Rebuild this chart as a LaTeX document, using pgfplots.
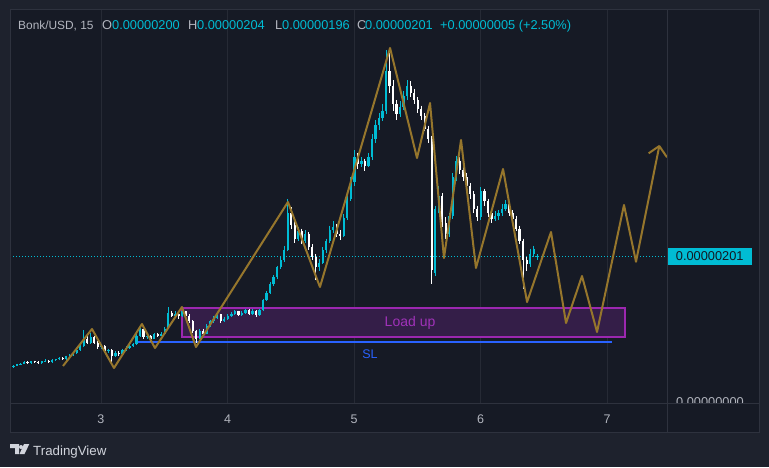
\documentclass[border=0pt]{standalone}
\usepackage{pgfplots}
\pgfplotsset{compat=1.18}
\usepackage{pgfplotstable}
\usepackage{fontspec}
\setmainfont{Liberation Sans}

\definecolor{outerbg}{RGB}{30,34,45}
\definecolor{plotbg}{RGB}{22,26,37}
\definecolor{bordc}{RGB}{46,50,62}
\definecolor{gridc}{RGB}{38,42,53}
\definecolor{tvgrey}{RGB}{178,181,190}
\definecolor{tvcyan}{RGB}{0,188,212}
\definecolor{goldl}{RGB}{150,118,44}
\definecolor{boxfill}{RGB}{52,30,72}
\definecolor{boxdraw}{RGB}{156,39,176}
\definecolor{loadtxt}{RGB}{160,50,185}
\definecolor{slblue}{RGB}{41,98,255}
\definecolor{logoc}{RGB}{209,212,220}
\definecolor{darktxt}{RGB}{19,23,34}

% 40-minute candles, i = candle number, prices in units of 1e-8 USD
\pgfplotstableread{
i o h l c
0 44 47 43 46
1 46 49 45 48
2 48 51 47 50
3 50 52 49 51
4 51 54 50 53
5 53 54 51 52
6 52 55 51 54
7 54 55 52 53
8 53 54 51 52
9 52 55 51 54
10 54 57 53 55
11 55 56 52 53
12 53 57 52 56
13 56 58 55 57
14 57 60 56 59
15 59 60 56 57
16 57 62 56 61
17 61 64 60 63
18 63 67 62 66
19 66 71 65 70
20 70 77 69 75
21 75 98 74 86
22 86 90 78 80
23 80 94 79 88
24 88 89 78 80
25 80 82 72 74
26 74 78 72 76
27 76 77 66 68
28 68 72 66 70
29 70 71 52 62
30 62 68 60 66
31 66 68 62 64
32 64 72 63 70
33 70 75 68 73
34 73 77 72 75
35 75 80 74 78
36 78 92 77 90
37 90 105 88 99
38 99 100 86 88
39 88 92 86 90
40 90 91 81 86
41 86 94 85 92
42 92 94 88 90
43 90 95 89 93
44 93 102 92 100
45 100 130 99 122
46 122 125 116 118
47 118 124 116 121
48 121 122 114 117
49 117 127 116 124
50 124 125 116 118
51 118 120 108 110
52 110 112 94 96
53 96 98 80 86
54 86 99 85 97
55 97 100 91 93
56 93 106 92 104
57 104 112 102 110
58 110 117 108 115
59 115 122 113 120
60 120 121 108 111
61 111 116 109 114
62 114 120 112 118
63 118 123 116 121
64 121 126 119 124
65 124 125 117 119
66 119 124 117 122
67 122 128 120 126
68 126 127 119 121
69 121 127 119 125
70 125 126 116 119
71 119 128 118 126
72 126 142 124 140
73 140 153 138 150
74 150 165 148 163
75 163 175 160 172
76 172 188 170 186
77 186 200 183 196
78 196 215 193 210
79 210 281 208 262
80 262 270 240 245
81 245 250 220 225
82 225 242 222 236
83 236 240 218 222
84 222 238 220 232
85 232 235 210 214
86 214 218 196 200
87 200 204 168 186
88 186 198 180 192
89 192 214 190 210
90 210 226 206 222
91 222 244 220 238
92 238 250 234 242
93 242 246 228 232
94 232 238 224 230
95 230 260 228 255
96 255 288 252 282
97 282 312 278 305
98 305 350 300 340
99 340 346 324 330
100 330 340 326 334
101 334 338 320 328
102 328 346 326 340
103 340 372 336 365
104 365 392 360 385
105 385 402 378 395
106 395 415 390 405
107 405 490 400 460
108 460 486 430 440
109 440 448 405 415
110 415 420 392 400
111 400 418 396 410
112 410 432 406 425
113 425 448 420 440
114 440 446 424 430
115 430 436 414 420
116 420 424 402 408
117 408 412 392 398
118 398 402 376 380
119 380 384 360 366
120 366 370 162 182
121 178 272 174 268
122 268 300 262 285
123 285 290 242 248
124 248 256 226 232
125 232 262 228 258
126 258 318 254 312
127 312 342 306 335
128 335 340 316 322
129 322 328 306 312
130 312 318 294 300
131 300 304 282 288
132 288 292 262 268
133 268 272 250 256
134 256 298 252 292
135 292 296 272 278
136 278 282 256 262
137 262 266 248 254
138 254 264 250 258
139 258 266 252 262
140 262 274 258 268
141 268 280 264 274
142 274 276 258 262
143 262 266 248 254
144 254 258 236 240
145 240 244 218 222
146 222 226 156 196
147 196 200 180 190
148 190 212 186 205
149 205 216 200 212
150 200 204 196 201
}\candles

\begin{document}
\begin{tikzpicture}
\useasboundingbox (0,0) rectangle (769pt,467pt);
\fill[outerbg] (0,0) rectangle (769pt,467pt);
\fill[plotbg] (10pt,35pt) rectangle (759pt,457pt);

\begin{axis}[
  at={(10pt,64pt)}, anchor=south west,
  scale only axis, width=657pt, height=393pt,
  xmin=2.281, xmax=7.474, ymin=-4.2, ymax=546,
  axis line style={draw=none},
  xtick={3,4,5,6,7}, xticklabels={3,4,5,6,7},
  ytick=\empty,
  major tick length=0pt,
  xmajorgrids, grid style={draw=gridc, line width=0.9pt},
  xticklabel style={anchor=base, yshift=-20pt, text=tvgrey, font=\fontsize{12.5}{14}\selectfont},
  clip mode=individual,
]
% Load up zone
\addplot[fill=boxfill, draw=boxdraw, line width=1.2pt, forget plot]
  coordinates {(3.640,88.2) (7.142,88.2) (7.142,128.8) (3.640,128.8)} -- cycle;
% stop loss line
\addplot[slblue, line width=1.2pt, forget plot] coordinates {(3.269,81.2) (7.040,81.2)};
% last price line
\addplot[tvcyan, line width=0.8pt, dash pattern=on 0.8pt off 2.2pt, forget plot]
  coordinates {(2.281,201) (7.474,201)};

% wicks, up candles
\addplot[draw=none, mark=none, forget plot,
  restrict expr to domain={\thisrow{c}-\thisrow{o}}{0:10000},
  error bars/.cd, y dir=minus, y explicit, error mark=none,
  error bar style={draw=tvcyan, line width=0.9pt}]
  table[x expr={2.281+\thisrow{i}/36}, y=h, y error minus expr={\thisrow{h}-\thisrow{l}}] {\candles};
% bodies, up candles
\addplot[draw=none, mark=none, forget plot,
  restrict expr to domain={\thisrow{c}-\thisrow{o}}{0:10000},
  error bars/.cd, y dir=minus, y explicit, error mark=none,
  error bar style={draw=tvcyan, line width=2.2pt}]
  table[x expr={2.281+\thisrow{i}/36}, y=c, y error minus expr={\thisrow{c}-\thisrow{o}}] {\candles};
% wicks, down candles
\addplot[draw=none, mark=none, forget plot,
  restrict expr to domain={\thisrow{c}-\thisrow{o}}{-10000:-0.001},
  error bars/.cd, y dir=minus, y explicit, error mark=none,
  error bar style={draw=white, line width=0.9pt}]
  table[x expr={2.281+\thisrow{i}/36}, y=h, y error minus expr={\thisrow{h}-\thisrow{l}}] {\candles};
% bodies, down candles
\addplot[draw=none, mark=none, forget plot,
  restrict expr to domain={\thisrow{c}-\thisrow{o}}{-10000:-0.001},
  error bars/.cd, y dir=minus, y explicit, error mark=none,
  error bar style={draw=white, line width=2.2pt}]
  table[x expr={2.281+\thisrow{i}/36}, y=o, y error minus expr={\thisrow{o}-\thisrow{c}}] {\candles};

% projected zigzag
\addplot[goldl, line width=2pt, line join=round, forget plot] coordinates {
 (2.700,47.6) (2.929,99.4) (3.103,44.8) (3.324,106.4) (3.427,72.8) (3.640,130.2)
 (3.751,74.2) (4.478,277.2) (4.731,158.2) (5.285,492.8) (5.498,338.8) (5.601,415.8)
 (5.711,198.8) (5.846,364) (5.964,184.8) (6.178,323.4) (6.368,137.2) (6.557,235.2)
 (6.676,107.8) (6.802,173.6) (6.921,95.2) (7.134,273) (7.229,193.6) (7.413,355.6)};
\addplot[goldl, line width=2pt, line join=round, forget plot] coordinates {
 (7.329,345.4) (7.413,355.6) (7.474,339.8)};

\node[text=loadtxt, font=\fontsize{14}{16}\selectfont] at (axis cs:5.443,107.8) {Load up};
\node[text=slblue, font=\fontsize{12.5}{14}\selectfont] at (axis cs:5.126,64.4) {SL};
\node[fill=tvcyan, anchor=west, minimum width=85pt, minimum height=17pt, inner sep=0pt,
  text=darktxt, font=\fontsize{12.8}{14}\selectfont] at (axis cs:7.474,201) {0.00000201};
\end{axis}

% panel borders
\draw[bordc, line width=1pt] (10pt,35pt) rectangle (759pt,457pt);
\draw[bordc, line width=1pt] (10pt,64pt) -- (759pt,64pt);
\draw[bordc, line width=1pt] (667pt,35pt) -- (667pt,457pt);

% bottom price scale label (cut off)
\begin{scope}
\clip (668pt,64.5pt) rectangle (758pt,90pt);
\node[anchor=base, inner sep=0pt, text=tvgrey, font=\fontsize{12.8}{14}\selectfont] at (710pt,61pt) {0.00000000};
\end{scope}

% header
\begin{scope}[every node/.style={anchor=base west, inner sep=0pt, font=\fontsize{12.8}{14}\selectfont}]
\node[text=tvgrey, font=\fontsize{11.9}{14}\selectfont] at (18pt,437.5pt) {Bonk/USD, 15};
\node[text=tvgrey] at (102pt,437.5pt) {O};
\node[text=tvcyan] at (112pt,437.5pt) {0.00000200};
\node[text=tvgrey] at (188pt,437.5pt) {H};
\node[text=tvcyan] at (197pt,437.5pt) {0.00000204};
\node[text=tvgrey] at (275pt,437.5pt) {L};
\node[text=tvcyan] at (282pt,437.5pt) {0.00000196};
\node[text=tvgrey] at (357pt,437.5pt) {C};
\node[text=tvcyan] at (365pt,437.5pt) {0.00000201};
\node[text=tvcyan] at (440pt,437.5pt) {+0.00000005 (+2.50\%)};
\end{scope}

% TradingView logo and name
\fill[logoc] (10pt,23pt) -- (19pt,23pt) -- (19pt,13pt) -- (15pt,13pt) -- (15pt,19pt) -- (10pt,19pt) -- cycle;
\fill[logoc] (21pt,20pt) circle (2pt);
\fill[logoc] (24pt,23pt) -- (29.3pt,23pt) -- (24.5pt,13pt) -- (19.5pt,13pt) -- cycle;
\node[anchor=base west, inner sep=0pt, text=logoc, font=\fontsize{13.3}{15}\selectfont] at (33pt,12pt) {TradingView};
\end{tikzpicture}
\end{document}
